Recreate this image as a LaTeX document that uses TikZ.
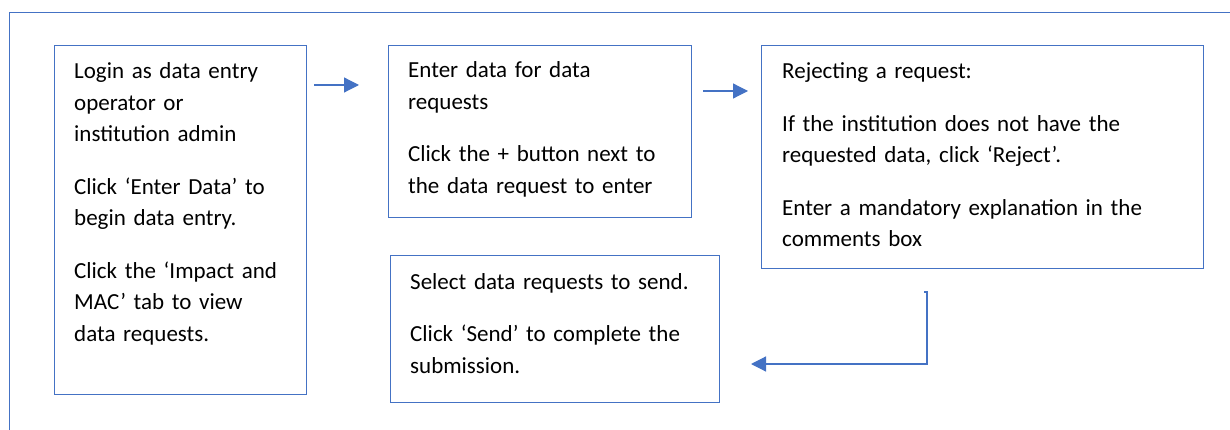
\documentclass[tikz,border=0pt]{standalone}
\usepackage{fontspec}
\setmainfont{Carlito}
\usetikzlibrary{arrows.meta,positioning}
\definecolor{officeblue}{HTML}{4472C4}
\tikzset{
  stepbox/.style={draw=officeblue,line width=1pt,inner sep=0pt,anchor=north west},
  steptext/.style={anchor=base west,inner sep=0pt,align=left,text width=#1,
    font=\fontsize{23}{31.5}\selectfont},
  flow/.style={draw=officeblue,line width=1.2pt,-{Triangle[length=15pt,width=15pt]}}
}
\begin{document}
\begin{tikzpicture}[x=1pt,y=-1pt]
\useasboundingbox (0,0) rectangle (1230,430);
\draw[officeblue,line width=1pt] (9.5,430) -- (9.5,12.5) -- (1230,12.5);
% boxes
\node[stepbox,minimum width=252pt,minimum height=349pt] (login) at (54,45) {};
\node[stepbox,minimum width=303pt,minimum height=172pt] (enter) at (388,45) {};
\node[stepbox,minimum width=442pt,minimum height=223pt] (reject) at (761,45) {};
\node[stepbox,minimum width=329pt,minimum height=147pt] (send) at (390,255) {};
% texts
\node[steptext=228pt] (logintxt) at ([shift={(20,34)}]login.north west)
  {Login as data entry\\ operator or\\ institution admin\\[21pt]
   Click ‘Enter Data’ to\\ begin data entry.\\[21pt]
   Click the ‘Impact and\\ MAC’ tab to view\\ data requests.};
\node[steptext=278pt] (entertxt) at ([shift={(20,33)}]enter.north west)
  {Enter data for data\\ requests\\[21pt]
   Click the + button next to\\ the data request to enter};
\node[steptext=415pt] (rejecttxt) at ([shift={(21,34)}]reject.north west)
  {Rejecting a request:\\[21pt]
   If the institution does not have the\\ requested data, click ‘Reject’.\\[21pt]
   Enter a mandatory explanation in the\\ comments box};
\node[steptext=305pt] (sendtxt) at ([shift={(20,34)}]send.north west)
  {Select data requests to send.\\[21pt]
   Click ‘Send’ to complete the\\ submission.};
% arrows
\draw[flow] ([shift={(7,40)}]login.north east) -- ([shift={(-29,40)}]enter.north west);
\draw[flow] ([shift={(11,46)}]enter.north east) -- ([shift={(-13,46)}]reject.north west);
\draw[flow] ([shift={(163,23)}]reject.south west) -- ++(3,0) |- ([shift={(31,-39)}]send.south east);
\end{tikzpicture}
\end{document}
